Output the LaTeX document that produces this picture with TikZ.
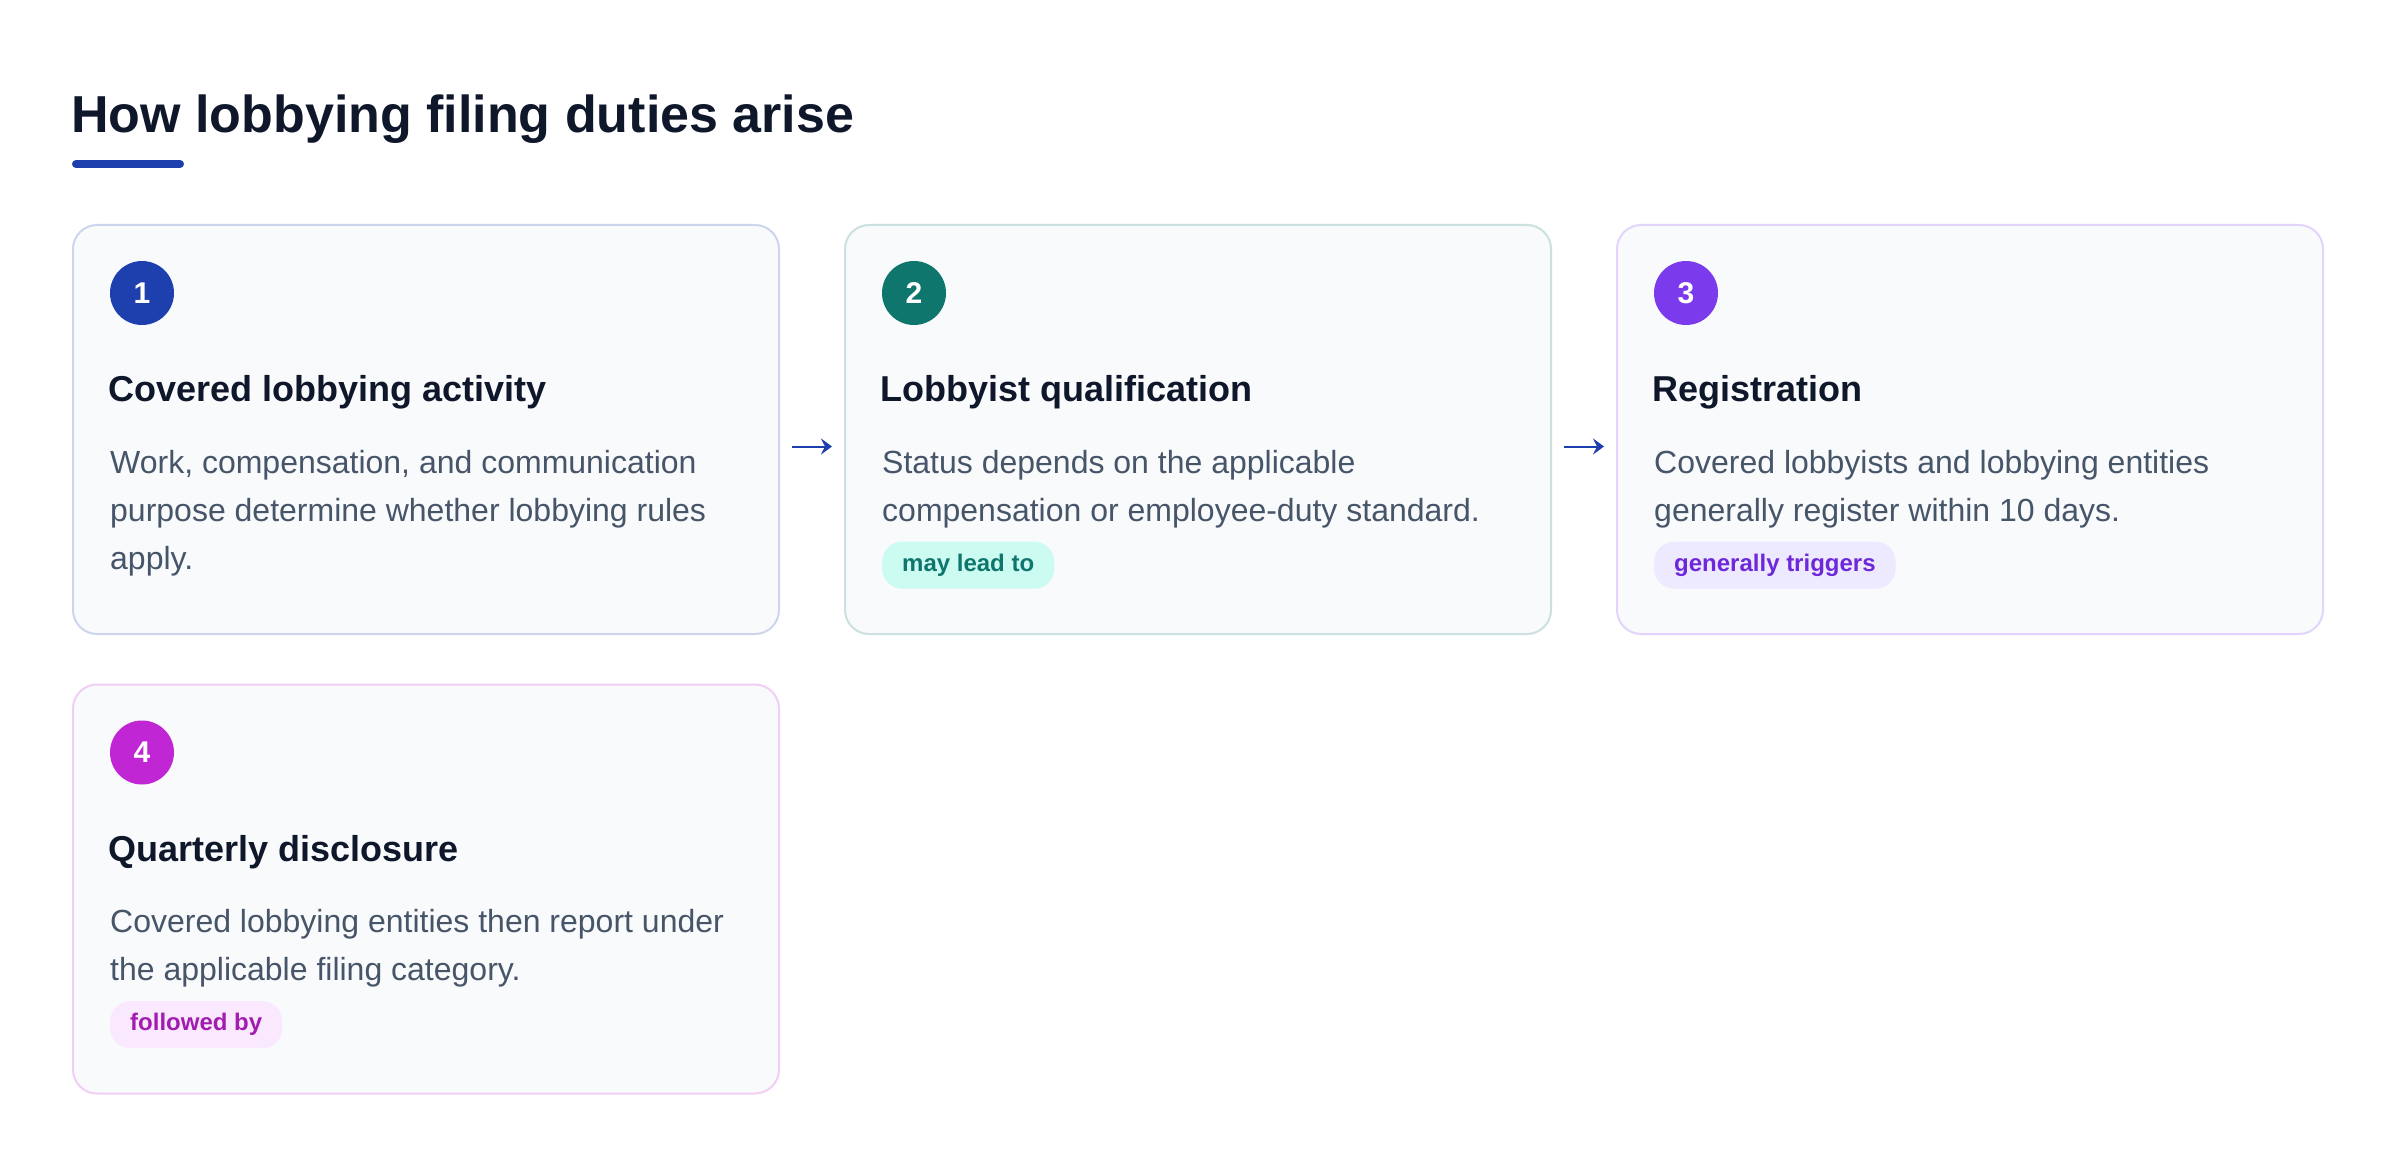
\documentclass[tikz,border=0pt]{standalone}
\usepackage{fontspec}
\setmainfont{Liberation Sans}
\usetikzlibrary{positioning}
\usetikzlibrary{arrows.meta}
\definecolor{ink}{HTML}{0F172A}
\definecolor{slate}{HTML}{475569}
\definecolor{panel}{HTML}{F8FAFC}
\definecolor{blueacc}{HTML}{1E40AF}
\definecolor{tealacc}{HTML}{0F766E}
\definecolor{violetacc}{HTML}{7C3AED}
\definecolor{pinkacc}{HTML}{C026D3}
\definecolor{tealtag}{HTML}{CCFBF1}
\definecolor{violettag}{HTML}{EDE9FE}
\definecolor{pinktag}{HTML}{FAE8FF}
\definecolor{violettxt}{HTML}{6D28D9}
\definecolor{pinktxt}{HTML}{A21CAF}

\begin{document}
\begin{tikzpicture} [x=1pt, y=-1pt,
     card/.style={draw=#1!22, line width=2pt, fill=panel, rounded corners=24pt,
                  minimum width=706pt, minimum height=409pt},
     num/.style={circle, fill=#1, text=white, minimum size=64pt, inner sep=0pt,
                 font=\fontsize{30}{30}\selectfont\bfseries},
     head/.style={anchor=base west, inner sep=0pt, text=ink,
                  font=\fontsize{36}{36}\selectfont\bfseries},
     body/.style={anchor=north west, inner sep=0pt, align=left, text=slate,
                  font=\fontsize{32}{48}\selectfont},
     tag/.style={anchor=north west, rounded corners=20pt, minimum height=47pt,
                 inner xsep=20pt, inner ysep=0pt, font=\fontsize{24}{24}\selectfont\bfseries},
     flow/.style={draw=blueacc, line width=2pt, -{Stealth[length=11pt,width=16pt,inset=4pt]}}
   ]
\useasboundingbox (0,0) rectangle (2400,1166);

\node (title) [anchor=base west, inner sep=0pt, text=ink,
      font=\fontsize{52}{52}\selectfont\bfseries] at (71,133) {How lobbying filing duties arise};
\draw[blueacc, line width=8pt, line cap=round]
  ([xshift=5pt,yshift=-31pt]title.base west) -- ++(104,0);

\node (c1) [card=blueacc] at (426,429.5) {};
\node (c2) [card=tealacc, right=64pt of c1] {};
\node (c3) [card=violetacc, right=64pt of c2] {};
\node (c4) [card=pinkacc, below=48.5pt of c1] {};

\draw[flow] ([xshift=12pt,yshift=-17pt]c1.east) -- ([xshift=-12pt,yshift=-17pt]c2.west);
\draw[flow] ([xshift=12pt,yshift=-17pt]c2.east) -- ([xshift=-12pt,yshift=-17pt]c3.west);

\node (n1) [num=blueacc] at ([xshift=70pt,yshift=-69pt]c1.north west) {1};
\node (h1) [head] at ([xshift=36.5pt,yshift=-177.5pt]c1.north west) {Covered lobbying activity};
\node (b1) [body] at ([xshift=38pt,yshift=-215.5pt]c1.north west)
  {\strut Work, compensation, and communication\\purpose determine whether lobbying rules\\apply.};

\node (n2) [num=tealacc] at ([xshift=70pt,yshift=-69pt]c2.north west) {2};
\node (h2) [head] at ([xshift=36.5pt,yshift=-177.5pt]c2.north west) {Lobbyist qualification};
\node (b2) [body] at ([xshift=38pt,yshift=-215.5pt]c2.north west)
  {\strut Status depends on the applicable\\compensation or employee-duty standard.};
\node (t2) [tag, fill=tealtag, text=tealacc] at ([xshift=38pt,yshift=-317.5pt]c2.north west) {may lead to};

\node (n3) [num=violetacc] at ([xshift=70pt,yshift=-69pt]c3.north west) {3};
\node (h3) [head] at ([xshift=36.5pt,yshift=-177.5pt]c3.north west) {Registration};
\node (b3) [body] at ([xshift=38pt,yshift=-215.5pt]c3.north west)
  {\strut Covered lobbyists and lobbying entities\\generally register within 10 days.};
\node (t3) [tag, fill=violettag, text=violettxt] at ([xshift=38pt,yshift=-317.5pt]c3.north west) {generally triggers};

\node (n4) [num=pinkacc] at ([xshift=70pt,yshift=-69pt]c4.north west) {4};
\node (h4) [head] at ([xshift=36.5pt,yshift=-177.5pt]c4.north west) {Quarterly disclosure};
\node (b4) [body] at ([xshift=38pt,yshift=-215.5pt]c4.north west)
  {\strut Covered lobbying entities then report under\\the applicable filing category.};
\node (t4) [tag, fill=pinktag, text=pinktxt] at ([xshift=38pt,yshift=-317.5pt]c4.north west) {followed by};
\end{tikzpicture}
\end{document}
